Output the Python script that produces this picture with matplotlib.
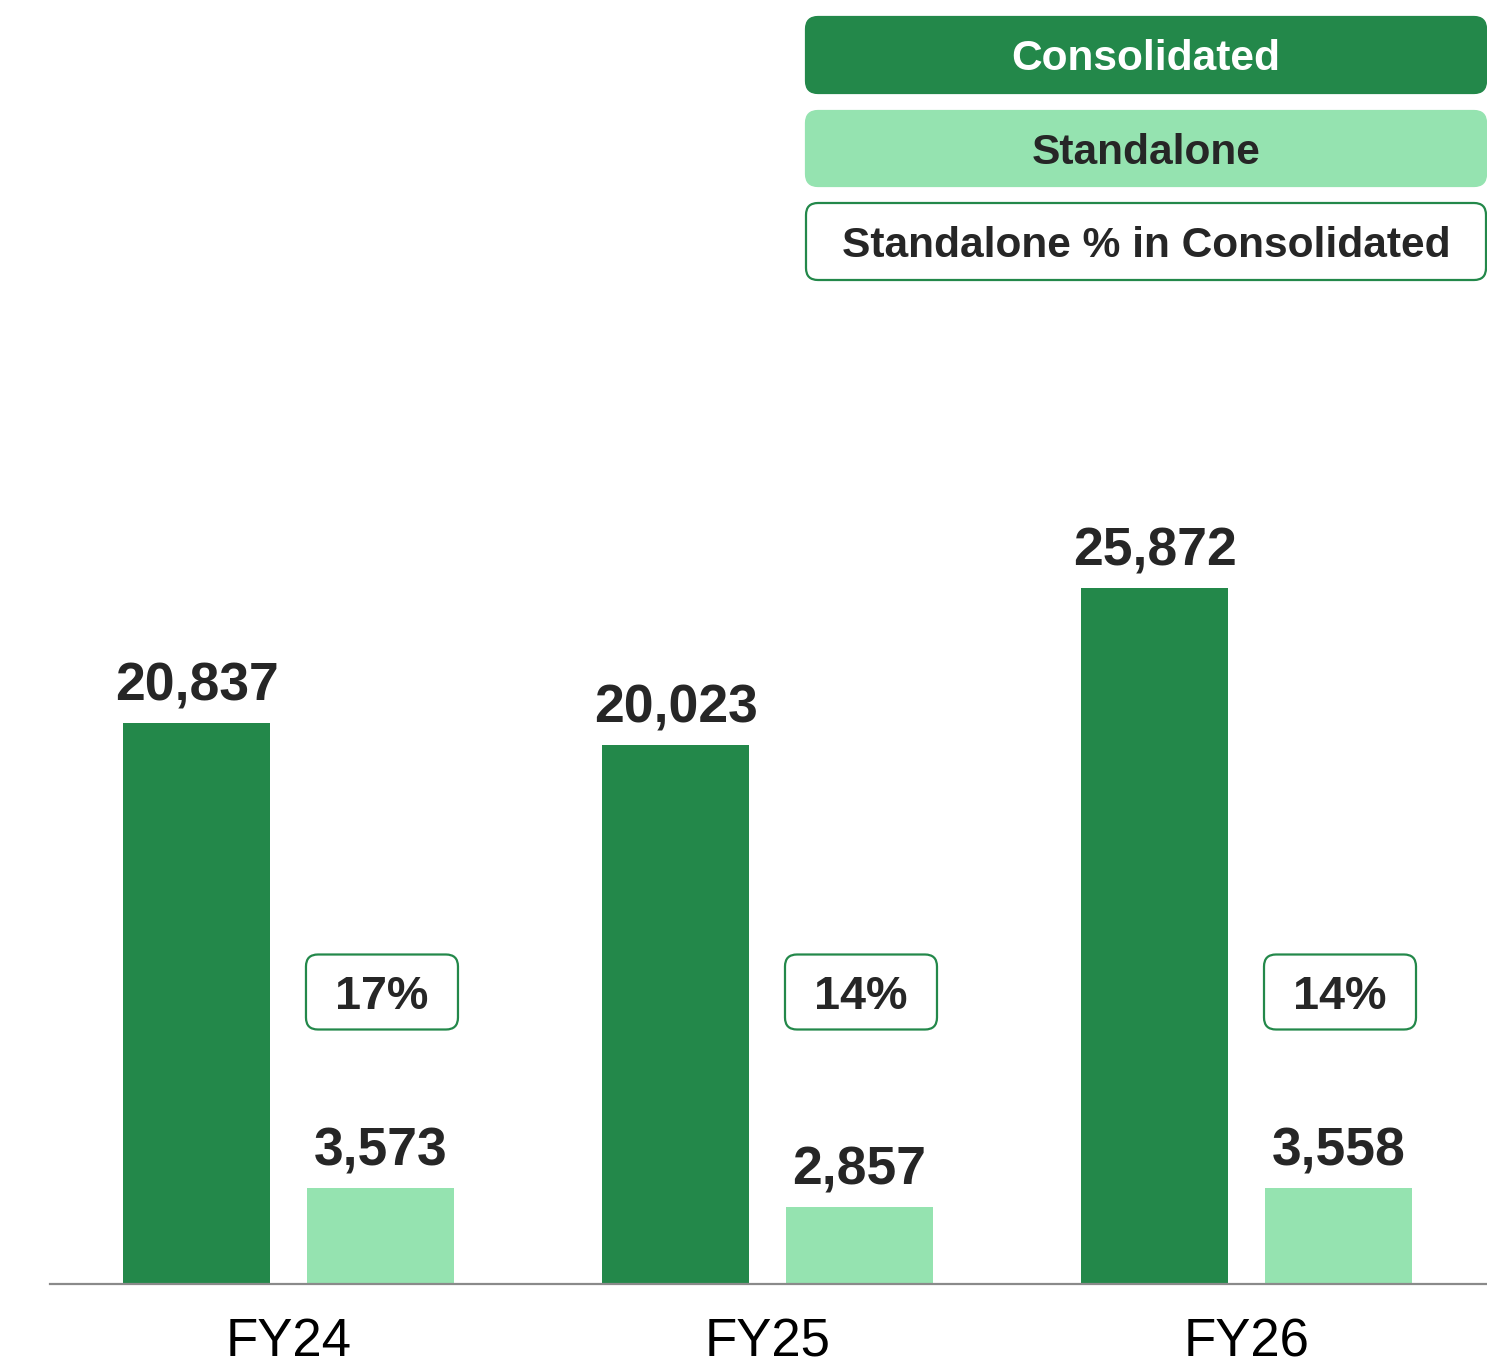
import matplotlib
matplotlib.use("Agg")
import matplotlib.pyplot as plt
from matplotlib.patches import FancyBboxPatch
import numpy as np

plt.rcParams['font.family'] = ['Liberation Sans', 'DejaVu Sans']

categories = ["FY24", "FY25", "FY26"]
consolidated = [20837, 20023, 25872]
standalone = [3573, 2857, 3558]
share_labels = ["17%", "14%", "14%"]
legend_labels = ["Consolidated", "Standalone", "Standalone % in Consolidated"]

DARK = "#23884A"
LIGHT = "#95E3B0"
TXT = "#262626"

W, H = 1487, 1372
fig = plt.figure(figsize=(W / 100, H / 100), dpi=100)
ax = fig.add_axes([50 / W, (H - 1284) / H, 1437 / W, 984 / H])

x = np.arange(len(categories))
bw = 0.3069
off = 0.192
b1 = ax.bar(x - off, consolidated, bw, color=DARK)
b2 = ax.bar(x + off, standalone, bw, color=LIGHT)
ax.set_xlim(-0.4979, 2.502)
ax.set_ylim(0, 36553)

for bars, vals in ((b1, consolidated), (b2, standalone)):
    for r, v in zip(bars, vals):
        ax.annotate(f"{v:,}", (r.get_x() + r.get_width() / 2, v),
                    xytext=(0, 16), textcoords="offset points",
                    ha="center", va="baseline", fontsize=38.5,
                    fontweight="bold", color=TXT)

for s in ["top", "right", "left"]:
    ax.spines[s].set_visible(False)
ax.spines["bottom"].set_color("#8a8a8a")
ax.spines["bottom"].set_linewidth(1.6)
ax.set_yticks([])
ax.set_xticks(x)
ax.set_xticklabels(categories, fontsize=38, color="black")
ax.tick_params(axis="x", length=0, pad=24)

# percentage boxes (positioned from the data transform, drawn in inches)
fig.canvas.draw()
for xi, lab in zip(x, share_labels):
    cx_disp, _ = ax.transData.transform((xi + off, 0))
    cx = cx_disp / 100 + 0.015
    cy = (H - 992) / 100
    bwid, bht = 1.52, 0.75
    p = FancyBboxPatch((cx - bwid / 2, cy - bht / 2), bwid, bht,
                       boxstyle="round,pad=0,rounding_size=0.12",
                       transform=fig.dpi_scale_trans, facecolor="white",
                       edgecolor=DARK, linewidth=1.6)
    fig.add_artist(p)
    fig.text(cx, cy, lab, transform=fig.dpi_scale_trans, ha="center",
             va="center_baseline", fontsize=33.7, fontweight="bold", color=TXT)

# legend boxes
leg_specs = [(17, 93, DARK, DARK, "white"),
             (111, 186, LIGHT, LIGHT, TXT),
             (203, 280, "white", DARK, TXT)]
for (top, bot, fc, ec, tc), lab in zip(leg_specs, legend_labels):
    x0, x1 = 806 / 100, 1486 / 100
    y0 = (H - bot) / 100
    hh = (bot - top) / 100
    p = FancyBboxPatch((x0, y0), x1 - x0, hh,
                       boxstyle="round,pad=0,rounding_size=0.12",
                       transform=fig.dpi_scale_trans, facecolor=fc,
                       edgecolor=ec, linewidth=1.6)
    fig.add_artist(p)
    fig.text((x0 + x1) / 2, y0 + hh / 2, lab, transform=fig.dpi_scale_trans,
             ha="center", va="center_baseline", fontsize=30.6,
             fontweight="bold", color=tc)

fig.savefig("out.png", dpi=100, facecolor="white")
